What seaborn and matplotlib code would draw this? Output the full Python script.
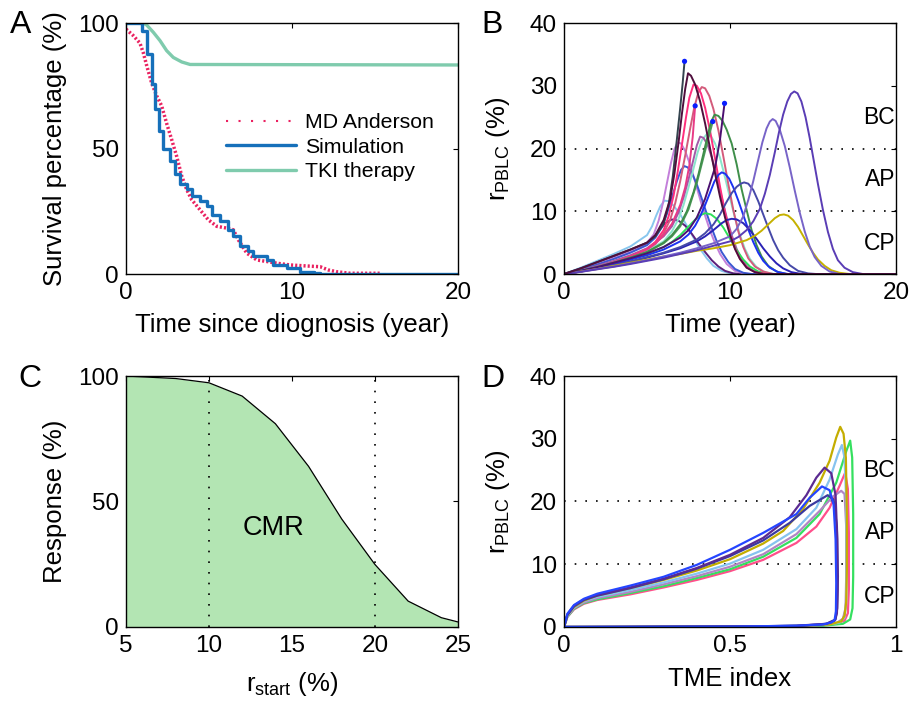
import numpy as np
import pandas as pd
import matplotlib
matplotlib.use("Agg")
import matplotlib.pyplot as plt
import seaborn as sns
from matplotlib.lines import Line2D

# ---------------- Panel A data ----------------
mda_t = [0, 0.44, 0.84, 1.05, 1.25, 1.55, 1.85, 2.15, 2.45, 2.75, 3.05, 3.36, 3.66, 3.96,
         4.46, 4.96, 5.47, 6.07, 6.47, 6.77, 7.28, 7.88, 8.48, 9.09, 9.9, 10.9, 11.7,
         12.2, 12.7, 13.5, 15.3]
mda_s = [97.6, 95, 92, 88, 83, 76, 71, 67, 60, 53.6, 47, 39, 33.6, 29.6,
         25.6, 21.6, 19, 18.3, 17.6, 13.6, 8.3, 5.6, 5, 4.3, 3.6, 3.2, 2.9,
         1.6, 0.9, 0.3, 0.3]
sim_t = [0, 0.94, 1.25, 1.55, 1.75, 2.0, 2.25, 2.65, 2.95, 3.26, 3.66, 3.96, 4.46, 4.86,
         5.17, 5.67, 6.17, 6.47, 6.87, 7.38, 7.68, 8.48, 8.88, 9.69, 10.5, 11.3, 11.7, 20]
sim_s = [100, 97, 87.6, 75.6, 65.6, 57, 50, 45, 40, 36, 34, 31, 29, 27,
         23.6, 21, 17.6, 15, 11, 9, 7, 5.6, 3.6, 2.3, 0.9, 0.3, 0, 0]
tki_t = [0, 1.05, 1.25, 1.65, 2.05, 2.45, 2.85, 3.36, 3.86, 20]
tki_s = [100, 100, 99.2, 96.3, 93, 89, 86.3, 84.5, 83.5, 83.3]
a_labels = ["MD Anderson", "Simulation", "TKI therapy"]

# ---------------- Panel B data ----------------
b_skyblue_t = [0, 1, 2, 3, 4, 5, 5.3, 5.55, 5.8, 6.05, 6.3, 6.6, 7.0, 7.4, 7.8, 8.2, 8.6, 9.0, 9.5, 10, 10.5, 20]
b_skyblue_r = [0, 1.0, 2.1, 3.2, 4.4, 6.2, 7.6, 9.3, 10.8, 11.7, 11.6, 10.9, 9.5, 7.7, 5.8, 4.0, 2.5, 1.3, 0.5, 0.1, 0, 0]
b_dkpurple_t = [0, 1, 2, 3, 4, 5, 5.5, 5.8, 6.1, 6.49, 6.9, 7.3, 7.7, 8.1, 8.5, 8.9, 9.3, 9.7, 10.2, 10.7, 20]
b_dkpurple_r = [0, 0.8, 1.7, 2.6, 3.6, 4.9, 6.2, 7.2, 8.1, 8.7, 8.5, 7.7, 6.4, 4.9, 3.5, 2.2, 1.2, 0.5, 0.1, 0, 0]
b_orchid_t = [0, 1, 2, 3, 4, 5, 5.4, 5.7, 5.95, 6.2, 6.45, 6.65, 6.85, 7.05, 7.3, 7.6, 7.9, 8.2, 8.5, 8.8, 9.1, 9.4, 9.8, 10.3, 10.8, 11.3, 20]
b_orchid_r = [0, 0.8, 1.7, 2.6, 3.6, 5.0, 6.3, 8.5, 11.2, 14.5, 17.8, 19.9, 21, 20.8, 19.6, 17.4, 14.7, 11.9, 9.3, 6.9, 4.9, 3.2, 1.6, 0.5, 0.1, 0, 0]
b_royal_t = [0, 1, 2, 3, 4, 5, 5.5, 5.9, 6.2, 6.5, 6.8, 7.05, 7.25, 7.45, 7.7, 8.0, 8.3, 8.6, 8.9, 9.2, 9.5, 9.9, 10.3, 10.8, 11.3, 20]
b_royal_r = [0, 0.7, 1.5, 2.4, 3.4, 4.6, 5.8, 7.5, 9.6, 12.2, 14.8, 16.6, 17.2, 17.0, 16.1, 14.3, 12, 9.6, 7.3, 5.2, 3.5, 1.9, 0.8, 0.2, 0, 0]
b_aqua_t = [0, 1, 2, 3, 4, 5, 6, 6.5, 6.9, 7.2, 7.5, 7.8, 8.05, 8.3, 8.6, 8.85, 9.1, 9.4, 9.7, 10.0, 10.3, 10.6, 10.9, 11.2, 11.6, 12.1, 12.7, 20]
b_aqua_r = [0, 0.5, 1.2, 1.9, 2.7, 3.7, 5.2, 6.8, 8.8, 11, 13.8, 16.8, 19.4, 21.3, 22.3, 22, 20.8, 18.5, 15.4, 12.1, 8.9, 6.2, 4, 2.4, 1.1, 0.3, 0, 0]
b_mauve_t = [0, 1, 2, 3, 4, 5, 6, 6.5, 6.9, 7.2, 7.5, 7.8, 8.0, 8.2, 8.4, 8.65, 8.9, 9.2, 9.5, 9.8, 10.1, 10.4, 10.7, 11.0, 11.4, 11.9, 12.4, 20]
b_mauve_r = [0, 0.6, 1.3, 2.1, 3.0, 4.1, 6, 7.6, 9.8, 12.2, 15.1, 18.3, 20.5, 21.9, 21.7, 20.6, 18.6, 15.6, 12.2, 9, 6.2, 4, 2.4, 1.3, 0.5, 0.1, 0, 0]
b_green_t = [0, 1, 2, 3, 4, 5, 6, 6.5, 7, 7.4, 7.8, 8.15, 8.5, 8.85, 9.2, 9.6, 10.0, 10.4, 10.8, 11.2, 11.7, 12.3, 20]
b_green_r = [0, 0.5, 1.1, 1.7, 2.4, 3.2, 4.3, 5.1, 6.2, 7.3, 8.4, 9.3, 9.7, 9.5, 8.8, 7.4, 5.6, 3.8, 2.3, 1.2, 0.4, 0, 0]
b_rose_t = [0, 1, 2, 3, 4, 5, 5.5, 6, 6.4, 6.7, 7.0, 7.3, 7.6, 7.85, 8.1, 8.3, 8.5, 8.75, 9.0, 9.3, 9.6, 9.9, 10.2, 10.5, 10.8, 11.1, 11.5, 12, 12.6, 20]
b_rose_r = [0, 0.5, 1.1, 1.9, 2.8, 4.0, 4.9, 6.5, 8.7, 11.3, 14.8, 18.9, 23.2, 26.6, 29, 29.8, 29.6, 28.4, 26.3, 22.9, 18.7, 14.3, 10.2, 6.8, 4.3, 2.5, 1.2, 0.4, 0, 0]
b_hotpink_t = [0, 1, 2, 3, 4, 5, 5.5, 6, 6.3, 6.6, 6.85, 7.1, 7.35, 7.55, 7.8, 8.0, 8.25, 8.5, 8.8, 9.1, 9.4, 9.7, 10.0, 10.3, 10.6, 11.0, 11.5, 12.2, 20]
b_hotpink_r = [0, 0.4, 1.0, 1.8, 2.8, 4.0, 5.1, 7, 9.2, 12.5, 16.3, 20.6, 25, 28.1, 30.2, 30, 28.8, 26.5, 22.8, 18.4, 13.9, 9.8, 6.5, 4.1, 2.4, 1.1, 0.3, 0, 0]
b_pinkend_t = [0, 1, 2, 3, 4, 5, 5.5, 6, 6.5, 7.0, 7.3, 7.55, 7.75, 7.9]
b_pinkend_r = [0, 0.4, 1.0, 1.8, 2.8, 3.9, 4.8, 6.2, 8, 11, 13.8, 17.3, 21.8, 26.8]
b_dkgreen_t = [0, 1, 2, 3, 4, 5, 6, 6.5, 7, 7.4, 7.8, 8.1, 8.4, 8.65, 8.85, 9.07, 9.3, 9.55, 9.8, 10.1, 10.4, 10.7, 11.0, 11.3, 11.6, 11.9, 12.3, 12.8, 13.4, 20]
b_dkgreen_r = [0, 0.5, 1.1, 1.8, 2.6, 3.5, 5.0, 6.2, 7.9, 10, 13, 15.9, 19.2, 22, 24.2, 25.4, 25.2, 24.4, 23, 20.8, 17.5, 13.5, 10.2, 7, 4.6, 2.8, 1.3, 0.4, 0, 0]
b_gdot_t = [0, 1, 2, 3, 4, 5, 6, 6.5, 7, 7.5, 8.0, 8.4, 8.7, 8.96]
b_gdot_r = [0, 0.5, 1.1, 1.8, 2.6, 3.5, 4.9, 6.0, 7.6, 10.3, 14.5, 18.6, 21.7, 24.3]
b_blue_t = [0, 1, 2, 3, 4, 5, 6, 7, 7.5, 7.9, 8.2, 8.5, 8.8, 9.05, 9.3, 9.5, 9.7, 9.95, 10.2, 10.5, 10.8, 11.1, 11.4, 11.7, 12.0, 12.4, 12.9, 13.5, 20]
b_blue_r = [0, 0.5, 1.0, 1.6, 2.3, 3.0, 3.9, 5.2, 6.3, 7.7, 9.2, 11, 13, 14.7, 15.8, 16.2, 16, 15.2, 13.8, 11.7, 9.4, 7.1, 5.1, 3.4, 2.1, 1.0, 0.3, 0, 0]
b_navy_t = [0, 1, 2, 3, 4, 5, 6, 7, 8, 8.5, 9, 9.5, 9.8, 10.1, 10.4, 10.8, 11.2, 11.6, 12, 12.4, 12.8, 13.2, 13.7, 14.3, 20]
b_navy_r = [0, 0.4, 0.9, 1.4, 2.0, 2.6, 3.3, 4.1, 5.2, 6, 7, 8.1, 8.6, 8.8, 8.7, 8.1, 7, 5.6, 4.1, 2.8, 1.7, 0.9, 0.3, 0, 0]
b_slateblue_t = [0, 1, 2, 3, 4, 5, 6, 7, 8, 8.5, 9, 9.4, 9.75, 10.1, 10.4, 10.65, 10.85, 11.1, 11.4, 11.7, 12.0, 12.3, 12.6, 12.9, 13.2, 13.6, 14.1, 14.7, 15.2, 20]
b_slateblue_r = [0, 0.4, 0.9, 1.4, 2, 2.7, 3.4, 4.3, 5.5, 6.5, 7.9, 9.5, 11.3, 12.9, 13.9, 14.4, 14.6, 14.4, 13.4, 11.6, 9.5, 7.4, 5.4, 3.8, 2.6, 1.4, 0.5, 0.1, 0, 0]
b_maroon_t = [0, 1, 2, 3, 4, 5, 5.5, 6, 6.4, 6.65, 6.9, 7.1, 7.3, 7.47, 7.65, 7.9, 8.2, 8.5, 8.8, 9.1, 9.4, 9.7, 10.0, 10.3, 10.6, 11.0, 11.5, 12, 20]
b_maroon_r = [0, 0.9, 1.9, 2.9, 3.9, 5.0, 6.2, 8.6, 12, 16, 21, 25.5, 29.5, 32, 31.6, 30.2, 27.5, 24, 20, 16, 12.3, 9, 6.2, 4, 2.4, 1, 0.3, 0, 0]
b_purpend_t = [0, 1, 2, 3, 4, 5, 6, 7, 7.5, 8, 8.5, 8.8, 9.1, 9.4, 9.67]
b_purpend_r = [0, 0.5, 1.1, 1.8, 2.5, 3.3, 4.3, 5.8, 7, 9, 12, 14.5, 17, 21.5, 27.2]
b_slate_t = [0, 1, 2, 3, 4, 5, 5.5, 6, 6.3, 6.55, 6.8, 7.0, 7.15, 7.26]
b_slate_r = [0, 0.9, 1.9, 2.9, 3.9, 5.0, 6.0, 8.0, 11, 15.5, 21.5, 26.5, 30.5, 33.9]
b_olive_t = [0, 1, 2, 3, 4, 5, 6, 7, 8, 9, 10, 11, 11.5, 11.9, 12.3, 12.7, 13.0, 13.25, 13.5, 13.8, 14.1, 14.4, 14.7, 15.0, 15.3, 15.7, 16.1, 16.6, 17.2, 20]
b_olive_r = [0, 0.4, 0.8, 1.3, 1.8, 2.3, 2.8, 3.2, 3.7, 4.1, 4.6, 5.4, 6.1, 6.9, 7.9, 8.9, 9.4, 9.5, 9.3, 8.6, 7.5, 6.1, 4.7, 3.4, 2.3, 1.3, 0.6, 0.2, 0, 0]
b_slatepurple_t = [0, 1, 2, 3, 4, 5, 6, 7, 8, 9, 10, 10.4, 10.8, 11.1, 11.4, 11.7, 11.95, 12.2, 12.4, 12.57, 12.75, 13.0, 13.3, 13.6, 13.9, 14.2, 14.5, 14.8, 15.1, 15.5, 16, 16.6, 20]
b_slatepurple_r = [0, 0.35, 0.8, 1.2, 1.7, 2.2, 2.8, 3.4, 4.1, 4.9, 6, 7.2, 9.2, 11.8, 14.8, 18.2, 21, 23.2, 24.3, 24.7, 24.4, 23, 20.4, 17, 13.3, 9.8, 6.8, 4.4, 2.7, 1.3, 0.4, 0, 0]
b_indigo_t = [0, 1, 2, 3, 4, 5, 6, 7, 8, 9, 10, 10.5, 11, 11.4, 11.8, 12.1, 12.4, 12.7, 12.95, 13.2, 13.45, 13.67, 13.87, 14.07, 14.3, 14.55, 14.8, 15.05, 15.3, 15.6, 15.9, 16.2, 16.5, 16.9, 17.4, 18, 20]
b_indigo_r = [0, 0.35, 0.75, 1.15, 1.6, 2.1, 2.6, 3.2, 3.8, 4.5, 5.2, 5.9, 7, 8.4, 10.4, 12.8, 15.8, 19.4, 22.6, 25.4, 27.5, 28.7, 29.1, 28.8, 27.5, 25, 21.7, 18, 14.3, 10.2, 6.7, 4, 2.2, 1, 0.3, 0, 0]
b_dot_t = [7.26, 7.9, 8.96, 9.67]
b_dot_r = [33.9, 26.8, 24.3, 27.2]
phase_labels = ["BC", "AP", "CP"]
phase_y = [24.9, 15, 4.9]
phase_lines = [10, 20]

# ---------------- Panel C data ----------------
c_rstart = [5, 8, 10, 12, 14, 16, 18, 20, 22, 24, 25]
c_resp = [100, 99, 97.3, 92, 81, 64, 43, 24.9, 10.3, 3.7, 2]
c_vlines = [10, 20]

# ---------------- Panel D data ----------------
d_pink_x = [0, 0.01, 0.03, 0.06, 0.1, 0.2, 0.3, 0.4, 0.5, 0.6, 0.7, 0.76, 0.8, 0.83, 0.847, 0.855, 0.858, 0.858, 0.855, 0.845, 0.81, 0.7, 0.5, 0.2, 0]
d_pink_r = [0, 1.6, 2.8, 3.7, 4.3, 5.2, 6.3, 7.5, 8.9, 10.7, 13.4, 16, 19, 22.5, 24.6, 22, 15, 6, 2.2, 1.0, 0.4, 0.1, 0.05, 0, 0]
d_green_x = [0, 0.01, 0.03, 0.06, 0.1, 0.2, 0.3, 0.4, 0.5, 0.6, 0.7, 0.77, 0.82, 0.85, 0.862, 0.868, 0.871, 0.871, 0.869, 0.862, 0.84, 0.78, 0.5, 0.2, 0]
d_green_r = [0, 1.6, 2.9, 3.8, 4.4, 5.4, 6.5, 7.8, 9.2, 11.2, 14.2, 18, 23, 28, 29.7, 27, 18, 8, 3, 1.2, 0.5, 0.2, 0.05, 0, 0]
d_lpurple_x = [0, 0.01, 0.03, 0.06, 0.1, 0.2, 0.3, 0.4, 0.5, 0.6, 0.7, 0.77, 0.81, 0.835, 0.845, 0.85, 0.85, 0.848, 0.84, 0.82, 0.75, 0.5, 0]
d_lpurple_r = [0, 1.7, 3.0, 3.9, 4.6, 5.6, 6.8, 8.1, 9.6, 11.6, 14.8, 18.5, 20.8, 21.7, 21.2, 16, 8, 3, 1.3, 0.6, 0.2, 0.05, 0]
d_lblue_x = [0, 0.01, 0.03, 0.06, 0.1, 0.2, 0.3, 0.4, 0.5, 0.6, 0.7, 0.76, 0.8, 0.825, 0.837, 0.845, 0.85, 0.851, 0.85, 0.845, 0.83, 0.78, 0.6, 0]
d_lblue_r = [0, 1.8, 3.1, 4.1, 4.8, 5.9, 7.1, 8.5, 10.1, 12.3, 15.6, 19, 23.5, 27.5, 29, 27, 20, 10, 4, 1.5, 0.7, 0.3, 0.1, 0]
d_olive_x = [0, 0.01, 0.03, 0.06, 0.1, 0.2, 0.3, 0.4, 0.5, 0.6, 0.66, 0.72, 0.77, 0.8, 0.82, 0.832, 0.842, 0.849, 0.852, 0.852, 0.85, 0.845, 0.835, 0.8, 0.7, 0.5, 0.2, 0]
d_olive_r = [0, 1.9, 3.2, 4.2, 5.0, 6.2, 7.5, 9.0, 10.8, 13.3, 15.3, 18.8, 23, 26.5, 30.2, 31.9, 30.8, 27, 18, 9, 4, 1.8, 0.9, 0.4, 0.15, 0.05, 0, 0]
d_navy_x = [0, 0.01, 0.03, 0.06, 0.1, 0.2, 0.3, 0.4, 0.5, 0.6, 0.68, 0.74, 0.794, 0.812, 0.822, 0.825, 0.823, 0.818, 0.79, 0.7, 0]
d_navy_r = [0, 1.9, 3.3, 4.3, 5.0, 6.2, 7.6, 9.3, 11.3, 13.8, 16.6, 19.3, 21, 20.3, 16, 8, 3, 1.2, 0.5, 0.15, 0]
d_purple_x = [0, 0.01, 0.03, 0.06, 0.1, 0.2, 0.3, 0.4, 0.5, 0.6, 0.68, 0.73, 0.76, 0.785, 0.805, 0.818, 0.823, 0.824, 0.822, 0.815, 0.79, 0.7, 0.5, 0]
d_purple_r = [0, 2.0, 3.4, 4.4, 5.1, 6.3, 7.7, 9.4, 11.5, 14.2, 17.5, 21, 23.8, 25.4, 24.5, 21, 14, 6, 2.2, 1, 0.5, 0.2, 0.05, 0]
d_blue_x = [0, 0.01, 0.03, 0.06, 0.1, 0.2, 0.3, 0.4, 0.5, 0.6, 0.7, 0.74, 0.777, 0.8, 0.812, 0.818, 0.82, 0.819, 0.815, 0.805, 0.78, 0.7, 0.5, 0.2, 0]
d_blue_r = [0, 2.1, 3.5, 4.5, 5.3, 6.6, 8.0, 9.9, 12.3, 15, 18, 20.6, 22.4, 21.8, 19.5, 14, 7, 2.5, 1.1, 0.7, 0.4, 0.2, 0.05, 0, 0]

# ---------------- Style ----------------
sns.set_theme(style="white")
plt.rcParams["font.family"] = ["Liberation Sans", "DejaVu Sans"]
plt.rcParams["mathtext.fontset"] = "custom"
plt.rcParams["mathtext.rm"] = "Liberation Sans"
plt.rcParams["mathtext.it"] = "Liberation Sans:italic"
plt.rcParams.update({
    "text.color": "black", "axes.labelcolor": "black",
    "xtick.labelcolor": "black", "ytick.labelcolor": "black",
    "xtick.direction": "in", "ytick.direction": "in",
    "xtick.top": True, "ytick.right": True,
    "xtick.major.size": 3.5, "ytick.major.size": 3.5,
    "xtick.major.width": 0.8, "ytick.major.width": 0.8,
    "xtick.color": "black", "ytick.color": "black",
    "axes.edgecolor": "black", "axes.linewidth": 1.0,
    "xtick.major.pad": 6, "ytick.major.pad": 5,
})

TICK_FS = 17.5
LAB_FS = 18.5
dots = (0, (1, 5.4))

fig = plt.figure(figsize=(9.09, 7.01), dpi=100)
axA = fig.add_axes([0.1386, 0.6091, 0.3652, 0.358])
axB = fig.add_axes([0.6205, 0.6091, 0.3652, 0.358])
axC = fig.add_axes([0.1386, 0.1056, 0.3652, 0.358])
axD = fig.add_axes([0.6205, 0.1056, 0.3652, 0.358])

def frame(ax):
    for s in ax.spines.values():
        s.set_visible(True)
        s.set_color("black")
        s.set_linewidth(1.0)
    ax.tick_params(labelsize=TICK_FS, which="both", direction="in", top=True, right=True,
                   colors="black", labelcolor="black")

# ---------------- Panel A ----------------
c_mda = "#ea2160"
c_sim = "#1670ba"
c_tki = "#7fcbad"
sns.lineplot(x=tki_t, y=tki_s, ax=axA, color=c_tki, lw=2.4, sort=False, estimator=None)
sns.lineplot(x=mda_t, y=mda_s, ax=axA, color=c_mda, lw=2.5, sort=False, estimator=None,
             linestyle=(0, (0.6, 0.6)))
sns.lineplot(x=sim_t, y=sim_s, ax=axA, color=c_sim, lw=2.4, sort=False, estimator=None,
             drawstyle="steps-post")
axA.set_xlim(0, 20)
axA.set_ylim(0, 100)
axA.set_xticks([0, 10, 20])
axA.set_yticks([0, 50, 100])
axA.set_xlabel("Time since diognosis (year)", fontsize=LAB_FS, labelpad=6)
axA.set_ylabel("Survival percentage (%)", fontsize=LAB_FS, labelpad=8)
handles = [Line2D([], [], color=c_mda, lw=1.5, linestyle=(0, (1, 5))),
           Line2D([], [], color=c_sim, lw=2.4),
           Line2D([], [], color=c_tki, lw=2.4)]
axA.legend(handles, a_labels, loc="center left", bbox_to_anchor=(0.275, 0.505),
           frameon=False, fontsize=15.3, handlelength=3.3, handletextpad=0.45,
           labelspacing=0.25, borderaxespad=0)
frame(axA)

# ---------------- Panel B ----------------
b_series = [
    (b_skyblue_t, b_skyblue_r, "#88c6ee"),
    (b_dkpurple_t, b_dkpurple_r, "#5c1f7a"),
    (b_orchid_t, b_orchid_r, "#c37fda"),
    (b_royal_t, b_royal_r, "#3b57d2"),
    (b_aqua_t, b_aqua_r, "#8ae5cc"),
    (b_mauve_t, b_mauve_r, "#a25aa8"),
    (b_green_t, b_green_r, "#2ee05a"),
    (b_rose_t, b_rose_r, "#d35b7b"),
    (b_hotpink_t, b_hotpink_r, "#ff2f7d"),
    (b_pinkend_t, b_pinkend_r, "#e83a86"),
    (b_gdot_t, b_gdot_r, "#4f9a5c"),
    (b_dkgreen_t, b_dkgreen_r, "#3f8f4a"),
    (b_blue_t, b_blue_r, "#1c32f2"),
    (b_navy_t, b_navy_r, "#2a22b5"),
    (b_slateblue_t, b_slateblue_r, "#4649a8"),
    (b_purpend_t, b_purpend_r, "#4b1070"),
    (b_slate_t, b_slate_r, "#34444f"),
    (b_olive_t, b_olive_r, "#c5b100"),
    (b_slatepurple_t, b_slatepurple_r, "#7864c8"),
    (b_indigo_t, b_indigo_r, "#5a3db5"),
    (b_maroon_t, b_maroon_r, "#4f0f3d"),
]
for y in phase_lines:
    axB.axhline(y, color="black", lw=1.2, linestyle=dots, zorder=1)
for t, r, c in b_series:
    sns.lineplot(x=t, y=r, ax=axB, color=c, lw=1.4, sort=False, estimator=None)
sns.scatterplot(x=b_dot_t, y=b_dot_r, ax=axB, color="#0a1eff", s=14, edgecolor="none", zorder=5)
axB.set_xlim(0, 20)
axB.set_ylim(0, 40)
axB.set_xticks([0, 10, 20])
axB.set_yticks([0, 10, 20, 30, 40])
axB.set_xlabel("Time (year)", fontsize=LAB_FS, labelpad=6)
axB.set_ylabel(r"$\mathregular{r_{PBLC}}$ (%)", fontsize=LAB_FS, labelpad=13)
for lab, y in zip(phase_labels, phase_y):
    axB.text(19.95, y, lab, ha="right", va="center", fontsize=16.5)
frame(axB)

# ---------------- Panel C ----------------
axC.fill_between(c_rstart, c_resp, 0, color="#b3e5b3", lw=0)
sns.lineplot(x=c_rstart, y=c_resp, ax=axC, color="black", lw=0.9, sort=False, estimator=None)
for x in c_vlines:
    axC.axvline(x, color="black", lw=1.2, linestyle=dots)
axC.text(13.9, 39.5, "CMR", ha="center", va="center", fontsize=19.5)
axC.set_xlim(5, 25)
axC.set_ylim(0, 100)
axC.set_xticks([5, 10, 15, 20, 25])
axC.set_yticks([0, 50, 100])
axC.set_xlabel(r"$\mathregular{r_{start}}$ (%)", fontsize=LAB_FS, labelpad=9)
axC.set_ylabel("Response (%)", fontsize=LAB_FS, labelpad=8)
frame(axC)

# ---------------- Panel D ----------------
d_series = [
    (d_pink_x, d_pink_r, "#ff4f8b"),
    (d_green_x, d_green_r, "#35e05f"),
    (d_lpurple_x, d_lpurple_r, "#b185c4"),
    (d_lblue_x, d_lblue_r, "#86c3ef"),
    (d_olive_x, d_olive_r, "#c4ad00"),
    (d_navy_x, d_navy_r, "#3a3aa0"),
    (d_purple_x, d_purple_r, "#5b2a91"),
    (d_blue_x, d_blue_r, "#2545ff"),
]
for y in phase_lines:
    axD.axhline(y, color="black", lw=1.2, linestyle=dots, zorder=1)
for x, r, c in d_series:
    sns.lineplot(x=x, y=r, ax=axD, color=c, lw=1.6, sort=False, estimator=None)
axD.set_xlim(0, 1)
axD.set_ylim(0, 40)
axD.set_xticks([0, 0.5, 1])
axD.set_xticklabels(["0", "0.5", "1"])
axD.set_yticks([0, 10, 20, 30, 40])
axD.set_xlabel("TME index", fontsize=LAB_FS, labelpad=7)
axD.set_ylabel(r"$\mathregular{r_{PBLC}}$ (%)", fontsize=LAB_FS, labelpad=13)
for lab, y in zip(phase_labels, phase_y):
    axD.text(0.9975, y, lab, ha="right", va="center", fontsize=16.5)
frame(axD)

# ---------------- Panel letters ----------------
fig.text(10 / 909, 1 - 10 / 701, "A", fontsize=23, ha="left", va="top")
fig.text(481 / 909, 1 - 10 / 701, "B", fontsize=23, ha="left", va="top")
fig.text(18 / 909, 1 - 364 / 701, "C", fontsize=23, ha="left", va="top")
fig.text(481 / 909, 1 - 364 / 701, "D", fontsize=23, ha="left", va="top")

fig.savefig("out.png", dpi=100)
